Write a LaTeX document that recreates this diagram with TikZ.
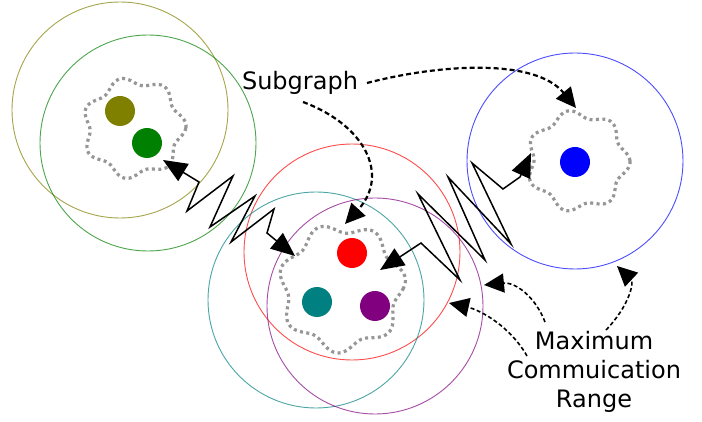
\documentclass[tikz,border=0pt]{standalone}
\usepackage{fontspec}
\setmainfont{DejaVu Sans}
\usetikzlibrary{arrows.meta}
\definecolor{cOlive}{RGB}{128,128,0}
\definecolor{cGreen}{RGB}{0,128,0}
\definecolor{cRed}{RGB}{255,0,0}
\definecolor{cTeal}{RGB}{0,128,128}
\definecolor{cPurple}{RGB}{128,0,128}
\definecolor{cBlue}{RGB}{0,0,255}
\definecolor{cDots}{RGB}{150,150,150}
\begin{document}
\begin{tikzpicture}[x=1pt,y=-1pt,
  rangec/.style={circle, draw=#1, draw opacity=0.7, line width=0.9pt, minimum size=216pt, inner sep=0pt},
  dotn/.style={circle, fill=#1, minimum size=30pt, inner sep=0pt},
  subgline/.style={draw=cDots, line width=3.2pt, dash pattern=on 3pt off 3.4pt},
  zz/.style={line width=1.5pt, line join=miter, {Triangle[length=24pt,width=20pt]}-{Triangle[length=24pt,width=20pt]}},
  sgarrow/.style={line width=2.2pt, dash pattern=on 5pt off 3pt, -{Triangle[length=20pt,width=19pt]}},
  mcarrow/.style={line width=1.6pt, dash pattern=on 4pt off 2.5pt, -{Triangle[length=20pt,width=19pt]}},
  lbl/.style={font=\fontsize{24}{29}\selectfont, inner sep=0pt}
]
\fill[white] (0,0) rectangle (702,422);
\useasboundingbox (0,0) rectangle (702,422);

% communication ranges
\node[rangec=cOlive] (rOlive) at (120,110) {};
\node[rangec=cGreen] (rGreen) at (148,143) {};
\node[rangec=cRed] (rRed) at (352,252) {};
\node[rangec=cTeal] (rTeal) at (316,300) {};
\node[rangec=cPurple] (rPurple) at (375,306) {};
\node[rangec=cBlue] (rBlue) at (575,161) {};

% subgraphs (wavy dotted outlines)
\coordinate (s1) at (134,128);
\coordinate (s2) at (342,288);
\coordinate (s3) at (578,161);
\draw[subgline, shift={(s1)}] plot[domain=0:360, samples=200, variable=\t]
  ({48*(1+0.085*cos(7*\t+20))*cos(\t)}, {47*(1+0.085*cos(7*\t+20))*sin(\t)}) -- cycle;
\draw[subgline, shift={(s2)}] plot[domain=0:360, samples=200, variable=\t]
  ({59*(1+0.085*cos(7*\t+60))*cos(\t)}, {60*(1+0.085*cos(7*\t+60))*sin(\t)}) -- cycle;
\draw[subgline, shift={(s3)}] plot[domain=0:360, samples=200, variable=\t]
  ({48*(1+0.085*cos(7*\t-10))*cos(\t)}, {47*(1+0.085*cos(7*\t-10))*sin(\t)}) -- cycle;

% agents
\node[dotn=cOlive] (dOlive) at (120,111) {};
\node[dotn=cGreen] (dGreen) at (147,143) {};
\node[dotn=cRed] (dRed) at (352,253) {};
\node[dotn=cTeal] (dTeal) at (317,302) {};
\node[dotn=cPurple] (dPurple) at (375,306) {};
\node[dotn=cBlue] (dBlue) at (575,162) {};

% zigzag links
\coordinate (za) at (163,160);
\coordinate (zb) at (295,256);
\coordinate (zc) at (380,270);
\coordinate (zd) at (531,153);
\draw[zz] (za) -- (199,182) -- (187,211) -- (233,176) -- (210,227) -- (255,196)
  -- (231,242) -- (274,209) -- (267,233) -- (zb);
\draw[zz] (zc) -- (421,243) -- (460,280) -- (418,194) -- (485,260) -- (448,177)
  -- (511,244) -- (472,163) -- (503,189) -- (520,177) -- (zd);

% labels
\node[lbl] (sg) at (300,83) {Subgraph};
\node[lbl, align=center] (mcr) at (594,372) {Maximum\\Commuication\\Range};

% pointers
\coordinate (sgE) at (367,83);
\coordinate (sgS) at (303,102);
\coordinate (tBlue) at (576,108);
\coordinate (tMid) at (345,224);
\coordinate (m1) at (545,322);
\coordinate (m2) at (527,356);
\coordinate (m3) at (606,330);
\coordinate (tP) at (484,285);
\coordinate (tR) at (449,303);
\coordinate (tB) at (617,266);
\draw[sgarrow] (sgE) .. controls (440,64) and (535,58) .. (tBlue);
\draw[sgarrow] (sgS) .. controls (365,125) and (390,175) .. (tMid);
\draw[mcarrow] (m1) .. controls (535,296) and (515,282) .. (tP);
\draw[mcarrow] (m2) .. controls (510,326) and (480,310) .. (tR);
\draw[mcarrow] (m3) .. controls (630,305) and (634,282) .. (tB);
\end{tikzpicture}
\end{document}
